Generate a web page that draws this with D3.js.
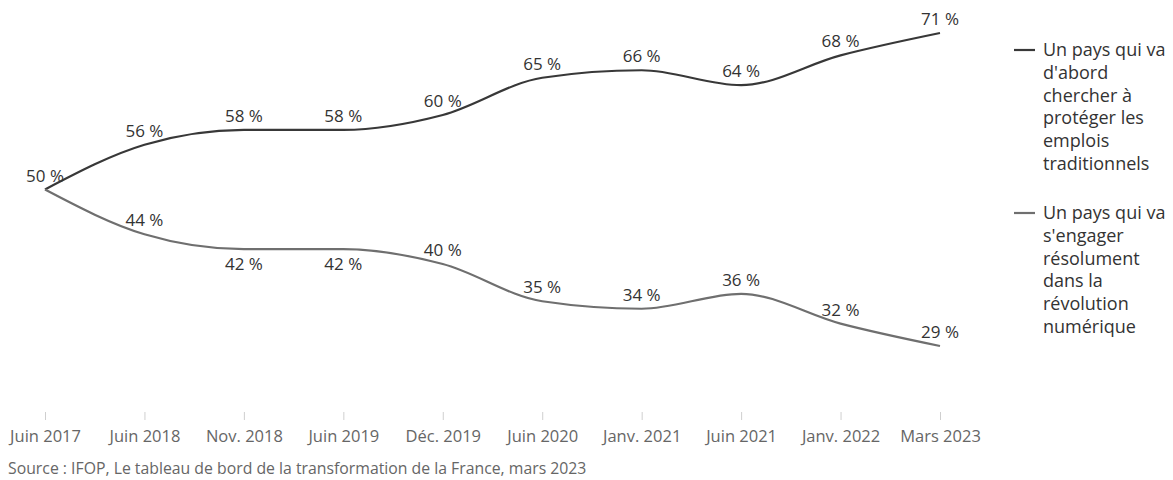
<!DOCTYPE html>
<html>
<head>
<meta charset="utf-8">
<script src="https://cdn.jsdelivr.net/npm/d3@7"></script>
<style>
  body { margin: 0; background: #fff; }
  svg { display: block; font-family: "Open Sans", sans-serif; }
</style>
</head>
<body>
<svg id="chart" width="1173" height="480"></svg>
<script>
// Survey waves and results (%)
const periods = ["Juin 2017", "Juin 2018", "Nov. 2018", "Juin 2019", "Déc. 2019",
                 "Juin 2020", "Janv. 2021", "Juin 2021", "Janv. 2022", "Mars 2023"];
const protegerEmplois = [50, 56, 58, 58, 60, 65, 66, 64, 68, 71];
const revolutionNumerique = [50, 44, 42, 42, 40, 35, 34, 36, 32, 29];
// Label placement per point: -1 above, +1 below, 0 none (shared starting point)
const labelSideProteger = [-1, -1, -1, -1, -1, -1, -1, -1, -1, -1];
const labelSideNumerique = [0, -1, 1, 1, -1, -1, -1, -1, -1, -1];
const legendProteger = ["Un pays qui va", "d'abord", "chercher à", "protéger les", "emplois", "traditionnels"];
const legendNumerique = ["Un pays qui va", "s'engager", "résolument", "dans la", "révolution", "numérique"];
const sourceText = "Source : IFOP, Le tableau de bord de la transformation de la France, mars 2023";

const svg = d3.select("#chart");

const x = d3.scalePoint().domain(periods).range([45, 940]);
const y = d3.scaleLinear().domain([29, 71]).range([346, 33]);

const series = [
  { values: protegerEmplois, sides: labelSideProteger, color: "#383838", legend: legendProteger, ly: 50 },
  { values: revolutionNumerique, sides: labelSideNumerique, color: "#6f6f6f", legend: legendNumerique, ly: 213 }
];

// X axis: short light ticks, grey labels
const xAxis = svg.append("g")
  .attr("transform", "translate(0,412)")
  .call(d3.axisBottom(x).tickSize(8).tickPadding(10));
xAxis.select(".domain").remove();
xAxis.selectAll(".tick line").attr("stroke", "#cfcfcf");
xAxis.selectAll(".tick text")
  .attr("fill", "#666")
  .attr("font-size", 16.5)
  .attr("font-family", "'Open Sans', sans-serif");

const line = d3.line()
  .x((d, i) => x(periods[i]))
  .y(d => y(d))
  .curve(d3.curveMonotoneX);

series.forEach(s => {
  svg.append("path")
    .datum(s.values)
    .attr("fill", "none")
    .attr("stroke", s.color)
    .attr("stroke-width", 2.2)
    .attr("d", line);
});

// Value labels
series.forEach(s => {
  const pts = s.values.map((v, i) => ({ v, i, side: s.sides[i] })).filter(p => p.side !== 0);
  svg.append("g").selectAll("text")
    .data(pts)
    .join("text")
    .attr("x", p => x(periods[p.i]))
    .attr("y", p => y(p.v) + (p.side < 0 ? -8 : 21))
    .attr("text-anchor", "middle")
    .attr("font-size", 17)
    .attr("fill", "#333")
    .text(p => p.v + " %");
});

// Legend
series.forEach(s => {
  const g = svg.append("g").attr("transform", `translate(1014,${s.ly})`);
  g.append("line")
    .attr("x1", 0).attr("x2", 21)
    .attr("y1", 0).attr("y2", 0)
    .attr("stroke", s.color).attr("stroke-width", 2.2);
  g.append("text")
    .attr("x", 29)
    .attr("y", 6)
    .attr("font-size", 18)
    .attr("fill", "#333")
    .selectAll("tspan")
    .data(s.legend)
    .join("tspan")
    .attr("x", 29)
    .attr("dy", (d, i) => i === 0 ? 0 : 22.8)
    .text(d => d);
});

// Source note
svg.append("text")
  .attr("x", 8)
  .attr("y", 474)
  .attr("font-size", 15.8)
  .attr("fill", "#666")
  .text(sourceText);
</script>
</body>
</html>
